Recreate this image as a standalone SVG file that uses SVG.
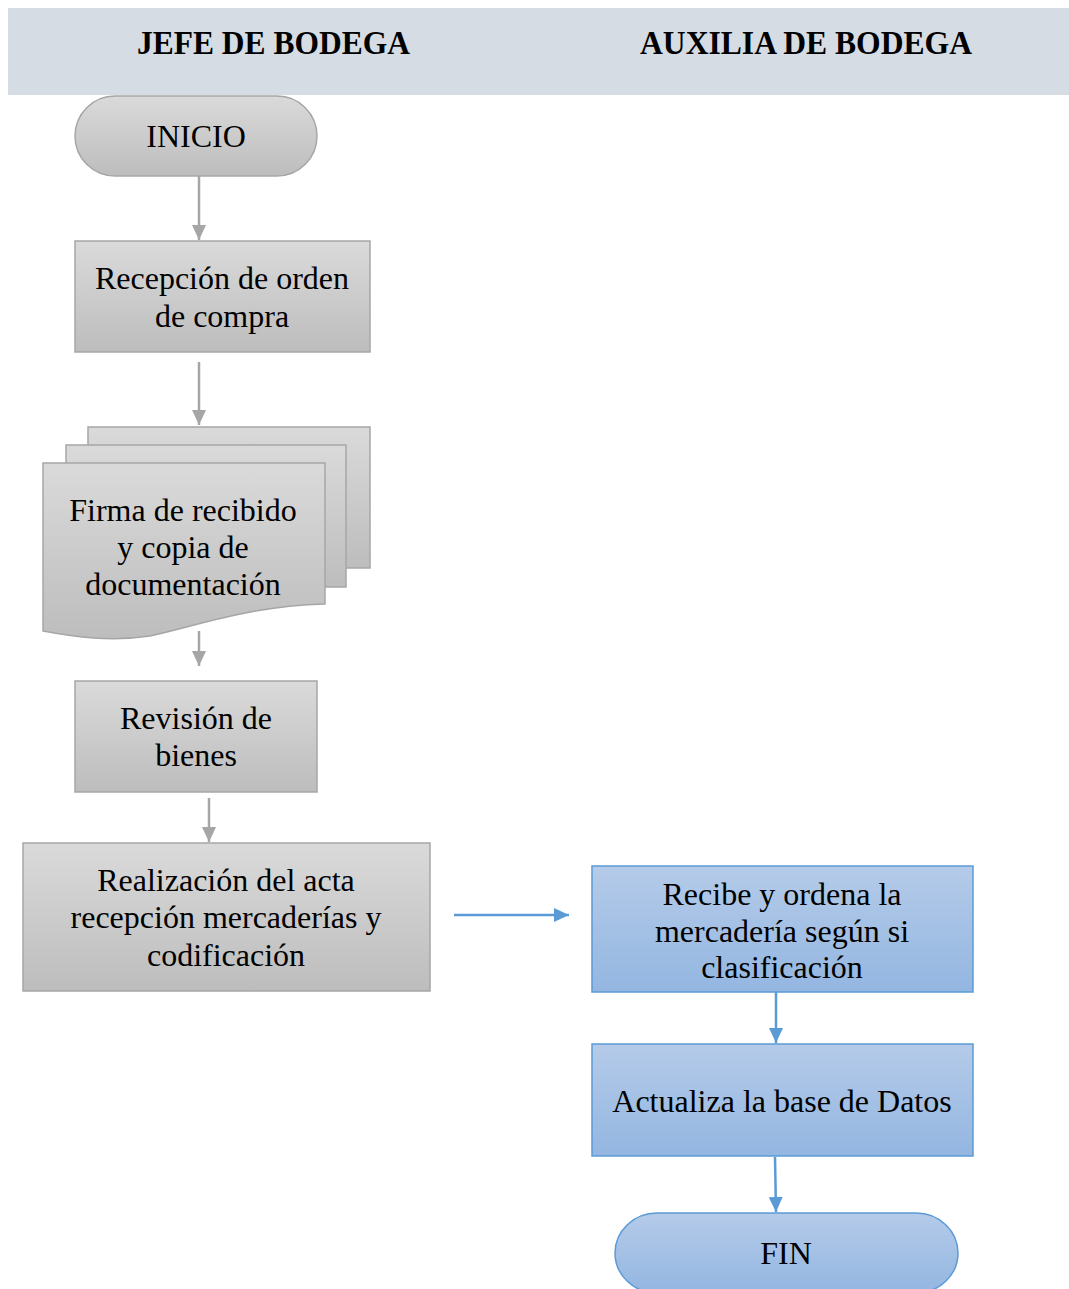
<svg xmlns="http://www.w3.org/2000/svg" width="1069" height="1289" viewBox="0 0 1069 1289">
  <defs>
    <linearGradient id="gGray" x1="0" y1="0" x2="0" y2="1">
      <stop offset="0" stop-color="#dadada"/>
      <stop offset="1" stop-color="#bdbdbd"/>
    </linearGradient>
    <linearGradient id="gBlue" x1="0" y1="0" x2="0" y2="1">
      <stop offset="0" stop-color="#b5cbe9"/>
      <stop offset="1" stop-color="#93b6e1"/>
    </linearGradient>
    <marker id="arrGray" markerUnits="userSpaceOnUse" markerWidth="16" markerHeight="16" viewBox="0 0 16 16" refX="15" refY="8" orient="auto">
      <path d="M0,1 L15,8 L0,15 Z" fill="#a6a6a6"/>
    </marker>
    <marker id="arrBlue" markerUnits="userSpaceOnUse" markerWidth="16" markerHeight="16" viewBox="0 0 16 16" refX="15" refY="8" orient="auto">
      <path d="M0,1 L15,8 L0,15 Z" fill="#5b9bd5"/>
    </marker>
  </defs>
  <style>
    .hdr { font-family: "Liberation Serif", serif; font-weight: bold; font-size: 33px; fill: #000; text-anchor: middle; }
    .lbl { font-family: "Liberation Serif", serif; font-size: 32px; fill: #000; text-anchor: middle; }
    .gray { fill: url(#gGray); stroke: #a6a6a6; stroke-width: 1.5; }
    .blue { fill: url(#gBlue); stroke: #5b9bd5; stroke-width: 1.5; }
    .cg { stroke: #a6a6a6; stroke-width: 2.5; fill: none; marker-end: url(#arrGray); }
    .cb { stroke: #5b9bd5; stroke-width: 2.5; fill: none; marker-end: url(#arrBlue); }
  </style>

  <rect width="1069" height="1289" fill="#ffffff"/>

  <!-- swimlane header -->
  <g id="header">
    <rect x="8" y="8" width="1061" height="87" fill="#d5dce4"/>
    <text class="hdr" x="273.5" y="54" textLength="273" lengthAdjust="spacingAndGlyphs">JEFE DE BODEGA</text>
    <text class="hdr" x="806" y="54" textLength="332" lengthAdjust="spacingAndGlyphs">AUXILIA DE BODEGA</text>
  </g>

  <!-- connectors -->
  <g id="connectors">
    <line class="cg" x1="199" y1="176" x2="199" y2="240"/>
    <line class="cg" x1="199" y1="362" x2="199" y2="425"/>
    <line class="cg" x1="199" y1="631" x2="199" y2="666"/>
    <line class="cg" x1="209" y1="798" x2="209" y2="842"/>
    <line class="cb" x1="454" y1="915" x2="569" y2="915"/>
    <line class="cb" x1="776" y1="992" x2="776" y2="1043"/>
    <line class="cb" x1="775" y1="1157" x2="776" y2="1212"/>
  </g>

  <g id="inicio">
    <rect class="gray" x="75" y="96" width="242" height="80" rx="40" ry="40"/>
    <text class="lbl" x="196" y="147">INICIO</text>
  </g>

  <g id="recepcion">
    <rect class="gray" x="75" y="241" width="295" height="111"/>
    <text class="lbl" x="222" y="289">Recepción de orden</text>
    <text class="lbl" x="222" y="327">de compra</text>
  </g>

  <g id="firma">
    <rect class="gray" x="88" y="427" width="282" height="141"/>
    <rect class="gray" x="66" y="445" width="280" height="142"/>
    <path class="gray" d="M43,463 H325 V604 C250,606 200,625 150,636 C110,642 75,637 43,631 Z"/>
    <text class="lbl" x="183" y="521">Firma de recibido</text>
    <text class="lbl" x="183" y="558">y copia de</text>
    <text class="lbl" x="183" y="595">documentación</text>
  </g>

  <g id="revision">
    <rect class="gray" x="75" y="681" width="242" height="111"/>
    <text class="lbl" x="196" y="729">Revisión de</text>
    <text class="lbl" x="196" y="766">bienes</text>
  </g>

  <g id="realizacion">
    <rect class="gray" x="23" y="843" width="407" height="148"/>
    <text class="lbl" x="226" y="891">Realización del acta</text>
    <text class="lbl" x="226" y="928">recepción mercaderías y</text>
    <text class="lbl" x="226" y="966">codificación</text>
  </g>

  <g id="recibe">
    <rect class="blue" x="592" y="866" width="381" height="126"/>
    <text class="lbl" x="782" y="905">Recibe y ordena la</text>
    <text class="lbl" x="782" y="942">mercadería según si</text>
    <text class="lbl" x="782" y="978">clasificación</text>
  </g>

  <g id="actualiza">
    <rect class="blue" x="592" y="1044" width="381" height="112"/>
    <text class="lbl" x="782" y="1112">Actualiza la base de Datos</text>
  </g>

  <g id="fin">
    <rect class="blue" x="615" y="1213" width="343" height="80" rx="42" ry="40"/>
    <text class="lbl" x="786" y="1264">FIN</text>
  </g>
</svg>
